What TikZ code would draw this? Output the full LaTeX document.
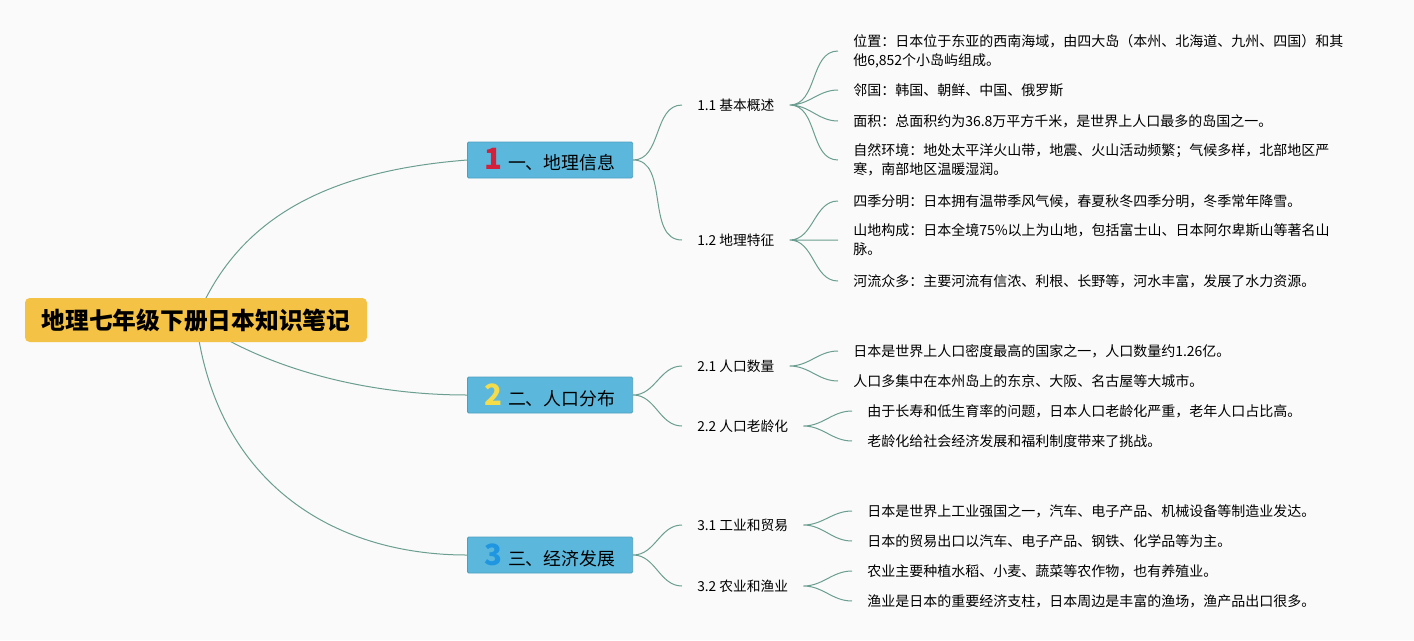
\documentclass[tikz,border=0pt]{standalone}
\usepackage{fontspec}
\setmainfont{Noto Sans CJK SC}
\usetikzlibrary{backgrounds}
\definecolor{bgc}{HTML}{FAFAFA}
\definecolor{rootc}{HTML}{F4C244}
\definecolor{topc}{HTML}{5BB8DC}
\definecolor{topline}{HTML}{4E9FBF}
\definecolor{linec}{HTML}{6B9E90}
\definecolor{numa}{HTML}{D3203B}
\definecolor{numb}{HTML}{F5DC4A}
\definecolor{numc}{HTML}{2196E0}
\newcommand{\bnum}[2]{{\color{#1}\fontsize{22}{22}\selectfont\bfseries #2}\hspace{4pt}}
\begin{document}
\begin{tikzpicture}[x=0.75pt,y=0.75pt,
	root/.style={fill=rootc,rounded corners=3.5pt,minimum width=256.5pt,minimum height=33pt,font=\bfseries\fontsize{17.8}{20}\selectfont},
	topic/.style={fill=topc,draw=topline,line width=0.6pt,rounded corners=1pt,minimum width=124pt,minimum height=27pt,anchor=west,font=\fontsize{13.4}{15}\selectfont},
	sub/.style={anchor=west,inner xsep=11.25pt,font=\fontsize{10.3}{12}\selectfont},
	leaf/.style={anchor=west,inner xsep=11.25pt,align=left,font=\fontsize{10.5}{14.25}\selectfont},
	link/.style={draw=linec,line width=0.75pt}]
	\useasboundingbox (0,0) rectangle (1414,-640);
	\node[root] (root) at (196,-320) {地理七年级下册日本知识笔记};
	\node[topic] (t1) at (467,-160) {\bnum{numa}{1}一、地理信息};
	\node[topic] (t2) at (467,-395) {\bnum{numb}{2}二、人口分布};
	\node[topic] (t3) at (467,-555) {\bnum{numc}{3}三、经济发展};
	\node[sub] (s11) at (682,-105) {1.1 基本概述};
	\node[sub] (s12) at (682,-240) {1.2 地理特征};
	\node[sub] (s21) at (682,-366) {2.1 人口数量};
	\node[sub] (s22) at (682,-426) {2.2 人口老龄化};
	\node[sub] (s31) at (682,-525) {3.1 工业和贸易};
	\node[sub] (s32) at (682,-586) {3.2 农业和渔业};
	\node[leaf] (l11a) at (838,-51) {位置：日本位于东亚的西南海域，由四大岛（本州、北海道、九州、四国）和其\\他6,852个小岛屿组成。};
	\node[leaf] (l11b) at (838,-90) {邻国：韩国、朝鲜、中国、俄罗斯};
	\node[leaf] (l11c) at (838,-121) {面积：总面积约为36.8万平方千米，是世界上人口最多的岛国之一。};
	\node[leaf] (l11d) at (838,-160) {自然环境：地处太平洋火山带，地震、火山活动频繁；气候多样，北部地区严\\寒，南部地区温暖湿润。};
	\node[leaf] (l12a) at (838,-201) {四季分明：日本拥有温带季风气候，春夏秋冬四季分明，冬季常年降雪。};
	\node[leaf] (l12b) at (838,-240) {山地构成：日本全境75\%以上为山地，包括富士山、日本阿尔卑斯山等著名山\\脉。};
	\node[leaf] (l12c) at (838,-281) {河流众多：主要河流有信浓、利根、长野等，河水丰富，发展了水力资源。};
	\node[leaf] (l21a) at (838,-351) {日本是世界上人口密度最高的国家之一，人口数量约1.26亿。};
	\node[leaf] (l21b) at (838,-381) {人口多集中在本州岛上的东京、大阪、名古屋等大城市。};
	\node[leaf] (l22a) at (852,-411) {由于长寿和低生育率的问题，日本人口老龄化严重，老年人口占比高。};
	\node[leaf] (l22b) at (852,-441) {老龄化给社会经济发展和福利制度带来了挑战。};
	\node[leaf] (l31a) at (852,-511) {日本是世界上工业强国之一，汽车、电子产品、机械设备等制造业发达。};
	\node[leaf] (l31b) at (852,-541) {日本的贸易出口以汽车、电子产品、钢铁、化学品等为主。};
	\node[leaf] (l32a) at (852,-571) {农业主要种植水稻、小麦、蔬菜等农作物，也有养殖业。};
	\node[leaf] (l32b) at (852,-601) {渔业是日本的重要经济支柱，日本周边是丰富的渔场，渔产品出口很多。};
	\begin{scope}[on background layer]
		\fill[bgc] (0,0) rectangle (1414,-640);
		\draw[link] (root.center) .. controls (240,-210) and (340,-170) .. (t1.west);
		\draw[link] (root.center) .. controls (250,-360) and (350,-395) .. (t2.west);
		\draw[link] (root.center) .. controls (215,-480) and (330,-555) .. (t3.west);
	\end{scope}
	\draw[link] (t1.east) to[out=0,in=180] (s11.west) (t1.east) to[out=0,in=180] (s12.west);
	\draw[link] (t2.east) to[out=0,in=180] (s21.west) (t2.east) to[out=0,in=180] (s22.west);
	\draw[link] (t3.east) to[out=0,in=180] (s31.west) (t3.east) to[out=0,in=180] (s32.west);
	\draw[link] (s11.east) to[out=0,in=180] (l11a.west) (s11.east) to[out=0,in=180] (l11b.west)
		(s11.east) to[out=0,in=180] (l11c.west) (s11.east) to[out=0,in=180] (l11d.west);
	\draw[link] (s12.east) to[out=0,in=180] (l12a.west) (s12.east) to[out=0,in=180] (l12b.west)
		(s12.east) to[out=0,in=180] (l12c.west);
	\draw[link] (s21.east) to[out=0,in=180] (l21a.west) (s21.east) to[out=0,in=180] (l21b.west);
	\draw[link] (s22.east) to[out=0,in=180] (l22a.west) (s22.east) to[out=0,in=180] (l22b.west);
	\draw[link] (s31.east) to[out=0,in=180] (l31a.west) (s31.east) to[out=0,in=180] (l31b.west);
	\draw[link] (s32.east) to[out=0,in=180] (l32a.west) (s32.east) to[out=0,in=180] (l32b.west);
\end{tikzpicture}
\end{document}
